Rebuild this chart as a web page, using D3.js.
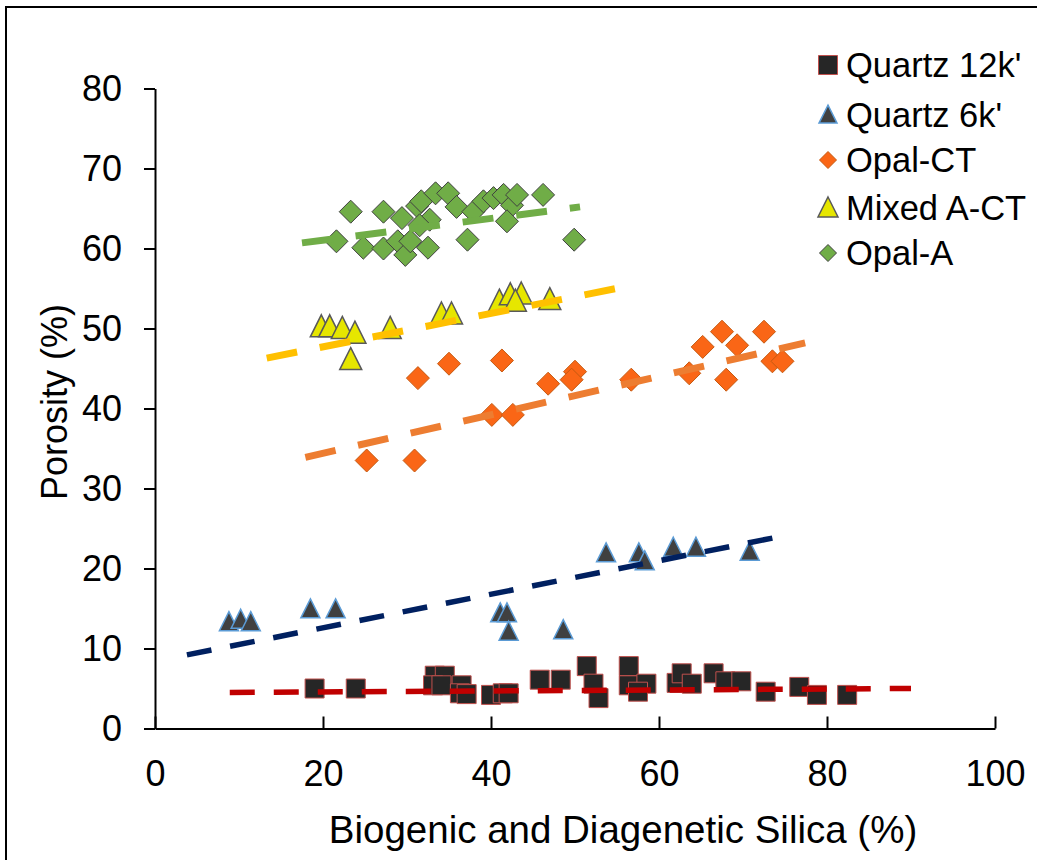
<!DOCTYPE html>
<html><head><meta charset="utf-8">
<script src="https://cdn.jsdelivr.net/npm/d3@7"></script>
<style>
html,body{margin:0;padding:0;background:#fff;}
svg{display:block;font-family:"Liberation Sans",Arial,sans-serif;}
</style></head>
<body>
<svg id="chart" width="1037" height="860"></svg>
<script>
// ---- data ----
const seriesNames = ["Quartz 12k'", "Quartz 6k'", "Opal-CT", "Mixed A-CT", "Opal-A"];
const xTicks = [0, 20, 40, 60, 80, 100];
const yTicks = [0, 10, 20, 30, 40, 50, 60, 70, 80];

const quartz12X = [19.0,23.9,33.3,34.5,33.1,34.1,36.5,36.3,37.1,40.0,41.4,42.1,45.8,48.3,51.4,52.2,52.8,56.4,56.4,58.5,57.5,62.1,62.7,63.9,66.5,67.9,69.8,72.7,76.7,78.8,82.4];
const quartz12Y = [5.0,5.0,6.6,6.6,5.4,5.4,5.4,4.4,4.3,4.2,4.4,4.4,6.1,6.1,7.8,5.6,3.8,7.8,5.4,5.6,4.6,5.7,6.9,5.6,6.9,5.9,5.9,4.6,5.2,4.2,4.2];

const quartz6X = [8.8,10.2,11.4,18.5,21.5,41.1,41.9,42.1,48.6,53.7,57.6,58.3,61.7,64.4,70.8];
const quartz6Y = [13.3,13.6,13.3,14.9,14.9,14.4,14.4,12.1,12.3,21.9,21.9,20.9,22.6,22.6,22.1];

const opalCTX = [31.3,35.0,41.3,46.8,50.0,49.6,40.1,42.6,25.2,30.9,56.7,63.6,65.2,67.5,69.3,68.0,72.5,73.5,74.7];
const opalCTY = [43.8,45.6,46.0,43.1,44.6,43.6,39.2,39.2,33.5,33.5,43.6,44.4,47.7,49.6,47.9,43.6,49.6,45.9,45.9];

const mixedX = [19.8,20.8,22.3,23.8,23.3,28.0,34.1,35.3,41.0,42.3,43.6,42.9,47.0];
const mixedY = [50.2,50.2,50.0,49.4,46.1,50.0,51.8,51.8,53.4,54.2,54.3,53.4,53.6];

const opalAX = [23.3,21.6,24.8,27.2,27.2,29.4,28.9,29.8,30.4,31.2,31.7,32.7,31.5,32.5,33.4,34.9,35.9,37.2,37.9,39.1,40.3,41.5,42.5,41.9,43.1,46.2,49.9];
const opalAY = [64.6,60.9,60.1,64.6,60.0,63.8,60.9,59.2,60.9,65.3,65.9,63.6,62.9,60.1,66.9,66.9,65.2,61.1,64.6,65.9,66.3,66.7,65.4,63.4,66.7,66.7,61.1];

// trend line end points [x0, y0, x1, y1]
const trendQuartz12 = [8.9, 4.5, 90.0, 5.0];
const trendQuartz6  = [3.8, 9.2, 73.5, 23.8];
const trendOpalCT   = [17.9, 33.9, 77.4, 48.2];
const trendMixed    = [13.3, 46.3, 55.4, 55.1];
const trendOpalA    = [17.5, 60.7, 50.6, 65.2];

// ---- styles ----
const styles = [
  {shape:"square",  size:19, fill:"#262626", stroke:"#c0504d", sw:1,   trend:"#c00000", tw:5.5, dash:"25,19"},
  {shape:"triangle",size:19, fill:"#404040", stroke:"#5b9bd5", sw:1.5, trend:"#002060", tw:5.5, dash:"25,19"},
  {shape:"diamond", size:23, fill:"#fa6616", stroke:"#c55a11", sw:1,   trend:"#ed7d31", tw:7,   dash:"31,23"},
  {shape:"triangle",size:22, fill:"#e6e600", stroke:"#595959", sw:1.5, trend:"#ffc000", tw:7,   dash:"31,23"},
  {shape:"diamond", size:23, fill:"#70ad47", stroke:"#404040", sw:1,   trend:"#70ad47", tw:7,   dash:"31,23"}
];

const seriesData = [
  {x:quartz12X, y:quartz12Y, t:trendQuartz12},
  {x:quartz6X,  y:quartz6Y,  t:trendQuartz6},
  {x:opalCTX,   y:opalCTY,   t:trendOpalCT},
  {x:mixedX,    y:mixedY,    t:trendMixed},
  {x:opalAX,    y:opalAY,    t:trendOpalA}
];

function shapePath(shape, s){
  const h = s/2;
  if(shape==="square") return `M${-h},${-h}H${h}V${h}H${-h}Z`;
  if(shape==="diamond") return `M0,${-h}L${h},0L0,${h}L${-h},0Z`;
  return `M0,${-h*1.1}L${h},${h*0.9}L${-h},${h*0.9}Z`;
}

const svg = d3.select("#chart");
const x = d3.scaleLinear().domain([0,100]).range([155,995]);
const y = d3.scaleLinear().domain([0,80]).range([728.5,88.5]);

// frame
svg.append("rect").attr("x",6).attr("y",7).attr("width",1100).attr("height",1000)
  .attr("fill","none").attr("stroke","#000").attr("stroke-width",2);

// axes
const yAxis = d3.axisLeft(y).tickValues(yTicks).tickSizeInner(11).tickSizeOuter(0).tickPadding(22);
const gy = svg.append("g").attr("transform",`translate(${x(0)},0)`).call(yAxis);
const xAxis = d3.axisBottom(x).tickValues(xTicks).tickSizeInner(-12).tickSizeOuter(0).tickPadding(32);
const gx = svg.append("g").attr("transform",`translate(0,${y(0)})`).call(xAxis);
[gx,gy].forEach(g=>{
  g.selectAll("path.domain").attr("stroke","#000").attr("stroke-width",2);
  g.selectAll(".tick line").attr("stroke","#000").attr("stroke-width",2);
  g.selectAll(".tick text").attr("font-size",36).attr("fill","#000")
    .attr("font-family","'Liberation Sans',Arial,sans-serif");
});

// markers
seriesData.forEach((sd,i)=>{
  const st = styles[i];
  const pts = sd.x.map((v,k)=>[v, sd.y[k]]);
  svg.append("g").selectAll("path").data(pts).join("path")
    .attr("d", shapePath(st.shape, st.size))
    .attr("transform", d=>`translate(${x(d[0])},${y(d[1])})`)
    .attr("fill", st.fill).attr("stroke", st.stroke).attr("stroke-width", st.sw);
});

// trend lines
const line = d3.line().x(d=>x(d[0])).y(d=>y(d[1]));
seriesData.forEach((sd,i)=>{
  const st = styles[i];
  svg.append("path")
    .attr("d", line([[sd.t[0],sd.t[1]],[sd.t[2],sd.t[3]]]))
    .attr("fill","none").attr("stroke",st.trend).attr("stroke-width",st.tw)
    .attr("stroke-dasharray",st.dash);
});

// axis titles
svg.append("text").attr("x",623).attr("y",843).attr("text-anchor","middle")
  .attr("font-size",38.5).attr("fill","#000").text("Biogenic and Diagenetic Silica (%)");
svg.append("text").attr("transform","translate(67,402) rotate(-90)").attr("text-anchor","middle")
  .attr("font-size",36).attr("fill","#000").text("Porosity (%)");

// legend
const leg = svg.append("g");
const legY = [65,115,160,208,253];
const legSizes = [19,18,17,20,17];
seriesNames.forEach((n,i)=>{
  const st = styles[i];
  leg.append("path").attr("d", shapePath(st.shape, legSizes[i]))
    .attr("transform",`translate(828,${legY[i]})`)
    .attr("fill",st.fill).attr("stroke",st.stroke).attr("stroke-width",st.sw);
  leg.append("text").attr("x",846).attr("y",legY[i]).attr("dy","0.36em")
    .attr("font-size",34.5).attr("fill","#000").text(n);
});
</script>
</body></html>
